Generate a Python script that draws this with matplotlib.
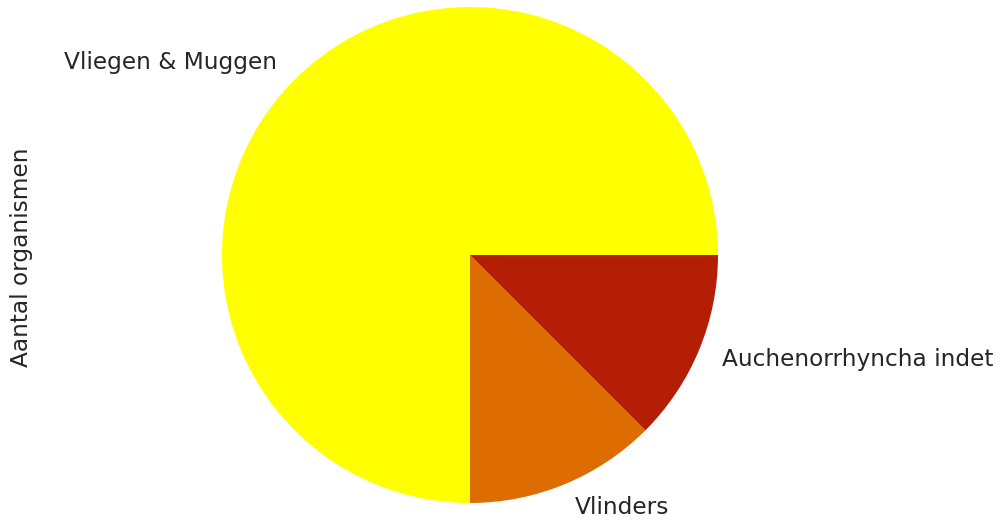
import matplotlib
matplotlib.use("Agg")
import matplotlib.pyplot as plt

labels = ["Vliegen & Muggen", "Vlinders", "Auchenorrhyncha indet"]
counts = [6, 1, 1]
colors = ["#ffff00", "#dd6d00", "#b31e04"]
ylabel = "Aantal organismen"

W, H = 1001, 523
fig = plt.figure(figsize=(W / 100, H / 100), dpi=100)
ax = fig.add_axes([0, 0, 1, 1])

text_color = "#262626"
font_size = 16.75
ax.pie(counts, labels=labels, colors=colors, startangle=0,
       counterclock=True, textprops={"fontsize": font_size, "color": text_color})

# pie centre and radius in pixels
cx, cy, r = 470, 523 - 255, 248
ax.set_xlim(-cx / r, (W - cx) / r)
ax.set_ylim(-cy / r, (H - cy) / r)
ax.set_aspect("auto")
ax.axis("off")

fig.text(22 / W, 1 - 257 / H, ylabel, rotation=90, ha="center", va="center",
         fontsize=font_size, color=text_color)

fig.savefig("out.png", dpi=100)
